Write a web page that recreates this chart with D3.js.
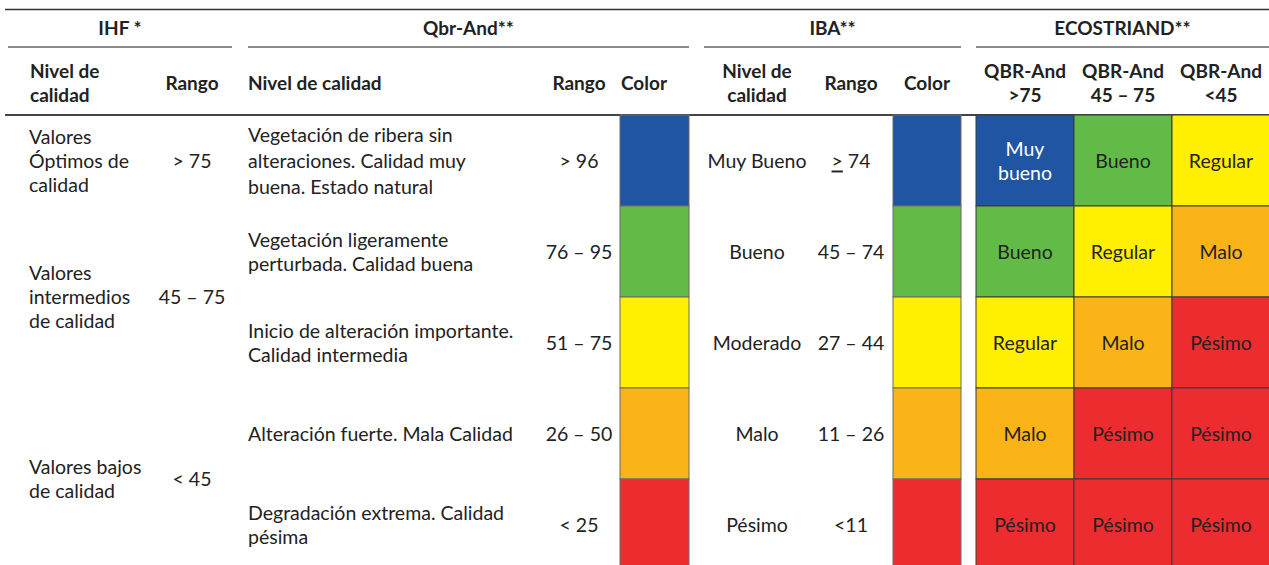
<!DOCTYPE html>
<meta charset="utf-8">
<script src="https://d3js.org/d3.v7.min.js"></script>
<style>
  body { margin: 0; background: #fff; }
  text { font-family: Lato, "Open Sans", sans-serif; fill: #222; }
</style>
<body>
<div id="table"></div>
<script>

  // ---- data ----
  const qualityLevels = ["Muy bueno", "Bueno", "Regular", "Malo", "Pésimo"];
  const qualityColors = ["#2055a4", "#63bb47", "#ffef00", "#fbb417", "#ec2c2e"];

  const groupTitles = ["IHF *", "Qbr-And**", "IBA**", "ECOSTRIAND**"];

  const ihfLevels = ["Valores|Óptimos de|calidad", "Valores|intermedios|de calidad", "Valores bajos|de calidad"];
  const ihfRanges = ["> 75", "45 – 75", "< 45"];
  const ihfRowSpans = [1, 2, 2];

  const qbrLevels = [
    "Vegetación de ribera sin|alteraciones. Calidad muy|buena. Estado natural",
    "Vegetación ligeramente|perturbada. Calidad buena",
    "Inicio de alteración importante.|Calidad intermedia",
    "Alteración fuerte. Mala Calidad",
    "Degradación extrema. Calidad|pésima"
  ];
  const qbrRanges = ["> 96", "76 – 95", "51 – 75", "26 – 50", "< 25"];

  const ibaLevels = ["Muy Bueno", "Bueno", "Moderado", "Malo", "Pésimo"];
  const ibaRanges = ["≥74", "45 – 74", "27 – 44", "11 – 26", "<11"];

  const ecoColumns = ["QBR-And|>75", "QBR-And|45 – 75", "QBR-And|<45"];
  const ecoMatrix = [
    ["Muy|bueno", "Bueno", "Regular"],
    ["Bueno", "Regular", "Malo"],
    ["Regular", "Malo", "Pésimo"],
    ["Malo", "Pésimo", "Pésimo"],
    ["Pésimo", "Pésimo", "Pésimo"]
  ];

  // ---- layout ----
  const width = 1269, height = 565;
  const bodySize = 19.5, headSize = 19;
  const svg = d3.select("#table").append("svg")
      .attr("width", width)
      .attr("height", height);

  const y = d3.scaleBand()
      .domain(d3.range(qbrLevels.length))
      .range([115, 570])
      .paddingInner(0);

  const color = d3.scaleOrdinal()
      .domain(qualityLevels)
      .range(qualityColors);

  const eco = d3.scaleBand()
      .domain(d3.range(ecoColumns.length))
      .range([976, 1270]);

  // multi-line text helper, centred vertically on cy
  function addText(g, str, x, cy, opts) {
    opts = opts || {};
    const lines = str.split("|");
    const lh = opts.lh || 24;
    const t = g.append("text")
        .attr("x", x)
        .attr("y", cy - 1 - (lines.length - 1) * lh / 2)
        .attr("dominant-baseline", "central")
        .attr("text-anchor", opts.anchor || "start")
        .style("font-size", (opts.size || bodySize) + "px")
        .style("font-weight", opts.bold ? 700 : 400);
    if (opts.fill) t.style("fill", opts.fill);
    lines.forEach((l, i) => {
      t.append("tspan").attr("x", x).attr("dy", i === 0 ? 0 : lh).text(l);
    });
    return t;
  }

  // rules
  svg.append("line").attr("x1", 5).attr("x2", width).attr("y1", 9.5).attr("y2", 9.5)
      .attr("stroke", "#333").attr("stroke-width", 1.5);
  svg.append("line").attr("x1", 5).attr("x2", width).attr("y1", 115).attr("y2", 115)
      .attr("stroke", "#444").attr("stroke-width", 2);

  const groupSpans = [[8, 232], [248, 689], [704, 961], [976, 1269]];
  groupSpans.forEach((s, i) => {
    svg.append("line").attr("x1", s[0]).attr("x2", s[1]).attr("y1", 47).attr("y2", 47)
        .attr("stroke", "#666").attr("stroke-width", 1.5);
    addText(svg, groupTitles[i], (s[0] + s[1]) / 2, 28, {anchor: "middle", bold: true, size: headSize});
  });

  // column headers
  const hdr = svg.append("g");
  const hy = 83;
  const hb = {bold: true, size: headSize};
  const hc = {anchor: "middle", bold: true, size: headSize};
  addText(hdr, "Nivel de|calidad", 30, hy, hb);
  addText(hdr, "Rango", 192, hy, hc);
  addText(hdr, "Nivel de calidad", 248, hy, hb);
  addText(hdr, "Rango", 579, hy, hc);
  addText(hdr, "Color", 644, hy, hc);
  addText(hdr, "Nivel de|calidad", 757, hy, hc);
  addText(hdr, "Rango", 851, hy, hc);
  addText(hdr, "Color", 927, hy, hc);
  ecoColumns.forEach((c, j) => {
    addText(hdr, c, eco(j) + eco.bandwidth() / 2, hy, hc);
  });

  // IHF column (rows span)
  let r0 = 0;
  ihfLevels.forEach((lev, i) => {
    const top = y(r0), bot = y(r0 + ihfRowSpans[i] - 1) + y.bandwidth();
    const cy = (top + bot) / 2;
    addText(svg, lev, 29, cy, {lh: 24});
    addText(svg, ihfRanges[i], 192, cy, {anchor: "middle"});
    r0 += ihfRowSpans[i];
  });

  // Qbr-And column
  qbrLevels.forEach((lev, i) => {
    const cy = y(i) + y.bandwidth() / 2;
    addText(svg, lev, 248, cy, {lh: lev.split("|").length > 2 ? 26 : 24});
    addText(svg, qbrRanges[i], 579, cy, {anchor: "middle"});
  });
  svg.append("g").selectAll("rect")
    .data(qualityLevels)
    .join("rect")
      .attr("x", 620).attr("width", 69)
      .attr("y", (d, i) => y(i)).attr("height", y.bandwidth())
      .attr("fill", d => color(d))
      .attr("stroke", "#6b6b6b").attr("stroke-width", 1);

  // IBA column
  ibaLevels.forEach((lev, i) => {
    const cy = y(i) + y.bandwidth() / 2;
    addText(svg, lev, 757, cy, {anchor: "middle"});
    if (ibaRanges[i] === "≥74") {
      const t = svg.append("text")
          .attr("x", 851).attr("y", cy - 1)
          .attr("dominant-baseline", "central")
          .attr("text-anchor", "middle")
          .style("font-size", bodySize + "px");
      t.append("tspan").style("text-decoration", "underline").text(">");
      t.append("tspan").text(" 74");
    } else {
      addText(svg, ibaRanges[i], 851, cy, {anchor: "middle"});
    }
  });
  svg.append("g").selectAll("rect")
    .data(qualityLevels)
    .join("rect")
      .attr("x", 893).attr("width", 68)
      .attr("y", (d, i) => y(i)).attr("height", y.bandwidth())
      .attr("fill", d => color(d))
      .attr("stroke", "#6b6b6b").attr("stroke-width", 1);

  // ECOSTRIAND matrix
  const cells = [];
  ecoMatrix.forEach((row, i) => row.forEach((v, j) => cells.push({i, j, v, key: v.replace("|", " ")})));
  const eg = svg.append("g");
  eg.selectAll("rect")
    .data(cells)
    .join("rect")
      .attr("x", d => eco(d.j)).attr("width", eco.bandwidth())
      .attr("y", d => y(d.i)).attr("height", y.bandwidth())
      .attr("fill", d => color(d.key))
      .attr("stroke", "#3a3a3a").attr("stroke-width", 1);
  cells.forEach(d => {
    addText(eg, d.v, eco(d.j) + eco.bandwidth() / 2, y(d.i) + y.bandwidth() / 2,
      {anchor: "middle", fill: d.key === "Muy bueno" ? "#fff" : "#222"});
  });

</script>
</body>
